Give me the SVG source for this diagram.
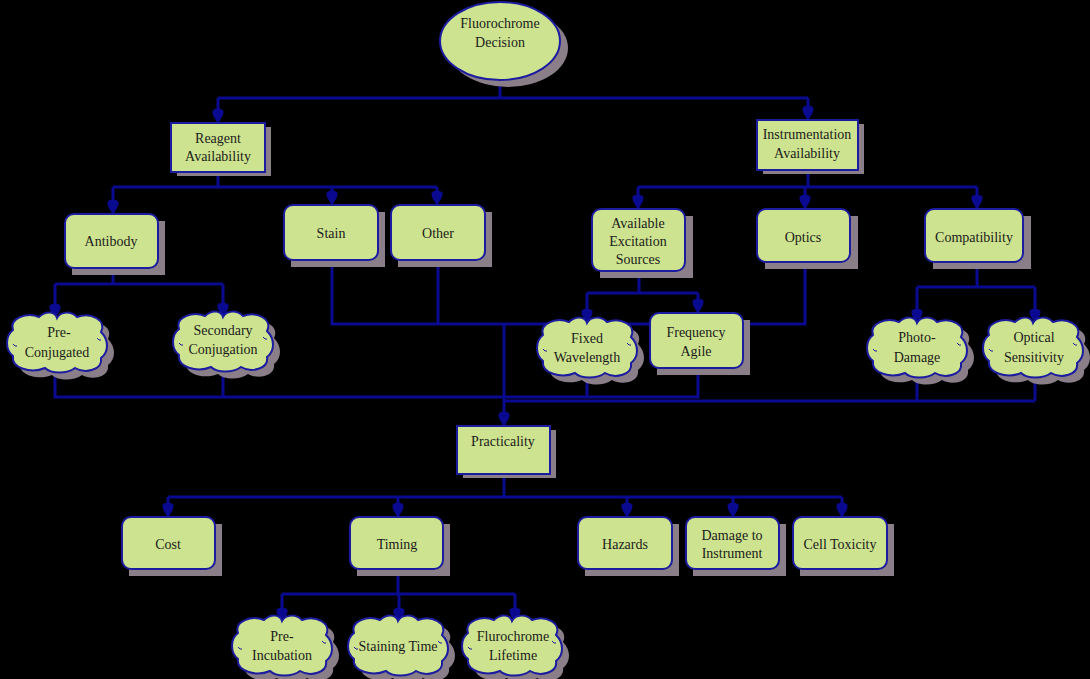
<svg xmlns="http://www.w3.org/2000/svg" xmlns:xlink="http://www.w3.org/1999/xlink" width="1090" height="679" viewBox="0 0 1090 679">
<style>
.sh{fill:#8a7e88}
.nd{fill:#cde38f;stroke:#1c1ca0;stroke-width:2}
.t{font-family:'Liberation Serif','Times New Roman','DejaVu Serif',serif;font-size:14px;fill:#1b1b1b;text-anchor:middle}
.c{fill:none;stroke:#0a0a90;stroke-width:3}
.a{fill:none;stroke:#0a0a90;stroke-width:3;marker-end:url(#ah)}
.sq{fill:none;stroke:#1c1ca0;stroke-width:1}
</style>
<defs>
<marker id="ah" markerUnits="userSpaceOnUse" viewBox="-14 -7 15 14" markerWidth="15" markerHeight="14" refX="0" refY="0" orient="auto">
<path d="M1,0 C-2,-2 -6,-6 -11,-5.5 C-14.5,-4 -14.5,4 -11,5.5 C-6,6 -2,2 1,0 Z" fill="#0a0a90"/>
</marker>
<path id="cloud" d="M-44,-12 C-48,-24 -30,-30 -18,-25 C-10,-32 -2,-30 0,-24 C4,-31 14,-31 20,-25 C34,-30 50,-22 44,-10 C52,-2 52,10 44,16 C46,28 28,32 18,26 C10,32 -6,32 -12,26 C-26,32 -46,26 -44,14 C-52,8 -52,-6 -44,-12 Z"/>
<path id="sq" d="M-44,2 q2,3 4,2 M40,-4 q2,3 4,2"/>
</defs>
<rect width="1090" height="679" fill="#000"/>
<g id="connectors">
<path class="c" d="M500,80 V98 M218,98 H808"/>
<path class="a" d="M218,98 V122"/>
<path class="a" d="M808,98 V119"/>
<path class="c" d="M218,172 V187 M113,187 H437"/>
<path class="a" d="M113,187 V213"/>
<path class="a" d="M332,187 V204"/>
<path class="a" d="M437,187 V204"/>
<path class="c" d="M808,170 V187 M638,187 H977"/>
<path class="a" d="M638,187 V208"/>
<path class="a" d="M805,187 V208"/>
<path class="a" d="M977,187 V208"/>
<path class="c" d="M113,268 V284 M55,284 H223"/>
<path class="a" d="M55,284 V317"/>
<path class="a" d="M223,284 V316"/>
<path class="c" d="M639,271 V293 M587,293 H698"/>
<path class="a" d="M587,293 V322"/>
<path class="a" d="M698,293 V312"/>
<path class="c" d="M977,262 V287 M917,287 H1035"/>
<path class="a" d="M917,287 V322"/>
<path class="a" d="M1035,287 V322"/>
<path class="c" d="M332,260 V324 H805 V262 M438,260 V324"/>
<path class="a" d="M504,324 V425"/>
<path class="c" d="M55,370 V397 H698 V368 M223,368 V397 M587,377 V397"/>
<path class="c" d="M917,377 V401 M1035,377 V401 M504,401 H1035"/>
<path class="c" d="M504,474 V497 M168,497 H842"/>
<path class="a" d="M168,497 V516"/>
<path class="a" d="M398,497 V516"/>
<path class="a" d="M627,497 V516"/>
<path class="a" d="M733,497 V516"/>
<path class="a" d="M842,497 V516"/>
<path class="c" d="M398,569 V594 M282,594 H515"/>
<path class="a" d="M282,594 V621"/>
<path class="a" d="M399,594 V621"/>
<path class="a" d="M515,594 V621"/>
</g>
<g id="n-decision">
<ellipse class="sh" cx="508" cy="48" rx="60" ry="39"/>
<ellipse class="nd" cx="500" cy="41" rx="60" ry="39"/>
<text class="t" x="500" y="28">Fluorochrome</text>
<text class="t" x="500" y="47">Decision</text>
</g>
<g id="n-reagent">
<rect class="sh" x="177" y="127" width="94" height="49"/>
<rect class="nd" x="171" y="123" width="94" height="49"/>
<text class="t" x="218" y="143">Reagent</text>
<text class="t" x="218" y="161">Availability</text>
</g>
<g id="n-instrumentation">
<rect class="sh" x="763" y="124" width="101" height="50"/>
<rect class="nd" x="757" y="120" width="101" height="50"/>
<text class="t" x="807" y="139">Instrumentation</text>
<text class="t" x="807" y="158">Availability</text>
</g>
<g id="n-antibody">
<rect class="sh" x="72" y="221" width="93" height="54"/>
<rect class="nd" x="65" y="214" width="93" height="54" rx="9"/>
<text class="t" x="111" y="246">Antibody</text>
</g>
<g id="n-stain">
<rect class="sh" x="291" y="212" width="94" height="55"/>
<rect class="nd" x="284" y="205" width="94" height="55" rx="9"/>
<text class="t" x="331" y="238">Stain</text>
</g>
<g id="n-other">
<rect class="sh" x="398" y="212" width="94" height="55"/>
<rect class="nd" x="391" y="205" width="94" height="55" rx="9"/>
<text class="t" x="438" y="238">Other</text>
</g>
<g id="n-available">
<rect class="sh" x="600" y="216" width="93" height="62"/>
<rect class="nd" x="592" y="209" width="93" height="62" rx="9"/>
<text class="t" x="638" y="228">Available</text>
<text class="t" x="638" y="246">Excitation</text>
<text class="t" x="638" y="264">Sources</text>
</g>
<g id="n-optics">
<rect class="sh" x="765" y="216" width="93" height="53"/>
<rect class="nd" x="757" y="209" width="93" height="53" rx="9"/>
<text class="t" x="803" y="242">Optics</text>
</g>
<g id="n-compatibility">
<rect class="sh" x="933" y="216" width="98" height="53"/>
<rect class="nd" x="925" y="209" width="98" height="53" rx="9"/>
<text class="t" x="974" y="242">Compatibility</text>
</g>
<g id="n-preconj">
<use href="#cloud" class="sh" transform="translate(64,349)"/>
<use href="#cloud" class="nd" transform="translate(57,342)"/>
<use href="#sq" class="sq" transform="translate(57,342)"/>
<text class="t" x="59" y="337">Pre-</text>
<text class="t" x="57" y="357">Conjugated</text>
</g>
<g id="n-secondary">
<use href="#cloud" class="sh" transform="translate(230,348)"/>
<use href="#cloud" class="nd" transform="translate(223,341)"/>
<use href="#sq" class="sq" transform="translate(223,341)"/>
<text class="t" x="223" y="335">Secondary</text>
<text class="t" x="223" y="354">Conjugation</text>
</g>
<g id="n-fixed">
<use href="#cloud" class="sh" transform="translate(594,354)"/>
<use href="#cloud" class="nd" transform="translate(587,347)"/>
<use href="#sq" class="sq" transform="translate(587,347)"/>
<text class="t" x="587" y="343">Fixed</text>
<text class="t" x="587" y="362">Wavelength</text>
</g>
<g id="n-frequency">
<rect class="sh" x="657" y="320" width="93" height="55"/>
<rect class="nd" x="650" y="313" width="93" height="55" rx="9"/>
<text class="t" x="696" y="337">Frequency</text>
<text class="t" x="696" y="356">Agile</text>
</g>
<g id="n-photo">
<use href="#cloud" class="sh" transform="translate(924,354)"/>
<use href="#cloud" class="nd" transform="translate(917,347)"/>
<use href="#sq" class="sq" transform="translate(917,347)"/>
<text class="t" x="917" y="342">Photo-</text>
<text class="t" x="917" y="362">Damage</text>
</g>
<g id="n-optical">
<use href="#cloud" class="sh" transform="translate(1040,354)"/>
<use href="#cloud" class="nd" transform="translate(1033,347)"/>
<use href="#sq" class="sq" transform="translate(1033,347)"/>
<text class="t" x="1034" y="342">Optical</text>
<text class="t" x="1034" y="362">Sensitivity</text>
</g>
<g id="n-practicality">
<rect class="sh" x="463" y="430" width="93" height="48"/>
<rect class="nd" x="457" y="426" width="93" height="48"/>
<text class="t" x="503" y="446">Practicality</text>
</g>
<g id="n-cost">
<rect class="sh" x="129" y="524" width="93" height="52"/>
<rect class="nd" x="122" y="517" width="93" height="52" rx="9"/>
<text class="t" x="168" y="549">Cost</text>
</g>
<g id="n-timing">
<rect class="sh" x="357" y="524" width="93" height="52"/>
<rect class="nd" x="350" y="517" width="93" height="52" rx="9"/>
<text class="t" x="397" y="549">Timing</text>
</g>
<g id="n-hazards">
<rect class="sh" x="585" y="524" width="94" height="52"/>
<rect class="nd" x="578" y="517" width="94" height="52" rx="9"/>
<text class="t" x="625" y="549">Hazards</text>
</g>
<g id="n-damage">
<rect class="sh" x="693" y="524" width="93" height="52"/>
<rect class="nd" x="686" y="517" width="93" height="52" rx="9"/>
<text class="t" x="732" y="540">Damage to</text>
<text class="t" x="732" y="558">Instrument</text>
</g>
<g id="n-celltox">
<rect class="sh" x="800" y="524" width="94" height="52"/>
<rect class="nd" x="793" y="517" width="94" height="52" rx="9"/>
<text class="t" x="840" y="549">Cell Toxicity</text>
</g>
<g id="n-preinc">
<use href="#cloud" class="sh" transform="translate(289,652)"/>
<use href="#cloud" class="nd" transform="translate(282,645)"/>
<use href="#sq" class="sq" transform="translate(282,645)"/>
<text class="t" x="282" y="641">Pre-</text>
<text class="t" x="282" y="660">Incubation</text>
</g>
<g id="n-staining">
<use href="#cloud" class="sh" transform="translate(405,652)"/>
<use href="#cloud" class="nd" transform="translate(398,645)"/>
<use href="#sq" class="sq" transform="translate(398,645)"/>
<text class="t" x="398" y="651">Staining Time</text>
</g>
<g id="n-lifetime">
<use href="#cloud" class="sh" transform="translate(519,652)"/>
<use href="#cloud" class="nd" transform="translate(512,645)"/>
<use href="#sq" class="sq" transform="translate(512,645)"/>
<text class="t" x="513" y="641">Flurochrome</text>
<text class="t" x="513" y="660">Lifetime</text>
</g>
</svg>
